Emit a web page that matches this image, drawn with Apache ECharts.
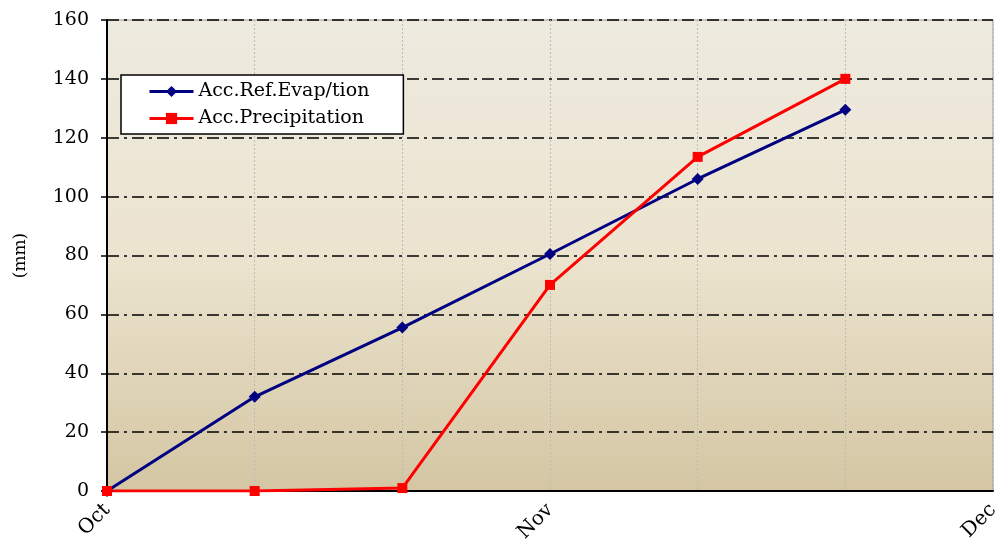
<!DOCTYPE html>
<html><head><meta charset="utf-8">
<script src="https://cdn.jsdelivr.net/npm/echarts@6/dist/echarts.min.js"></script>
<style>html,body{margin:0;padding:0;background:#fff}#c{width:1008px;height:551px}</style>
</head><body><div id="c"></div>
<script>
const categories = ['Oct', '', '', 'Nov', '', '', 'Dec'];
const evapValues = [0, 32, 55.5, 80.5, 106, 129.5];
const precipValues = [0, 0, 1, 70, 113.5, 140];
const yTicks = { min: 0, max: 160, interval: 20 };
const seriesNames = ['Acc.Ref.Evap/tion', 'Acc.Precipitation'];

const FONT = 'DejaVu Serif';
const chart = echarts.init(document.getElementById('c'));
chart.setOption({
  animation: false,
  backgroundColor: '#fff',
  textStyle: { fontFamily: FONT },
  grid: {
    left: 107, right: 15, top: 20, bottom: 60,
    show: true,
    borderColor: '#999', borderWidth: 1,
    backgroundColor: new echarts.graphic.LinearGradient(0, 0, 0, 1, [
      { offset: 0, color: '#EDEADF' },
      { offset: 0.5, color: '#ECE4CF' },
      { offset: 1, color: '#D4C6A3' }
    ])
  },
  legend: {
    left: 121, top: 75, orient: 'vertical',
    backgroundColor: '#fff', borderColor: '#000', borderWidth: 1.5, borderRadius: 0,
    padding: [7, 34, 6, 27], itemGap: 8, itemWidth: 44, itemHeight: 14,
    lineStyle: { width: 3 },
    textStyle: { fontFamily: FONT, fontSize: 19, color: '#000' },
    data: seriesNames
  },
  xAxis: {
    type: 'category', data: categories, boundaryGap: false,
    axisLine: { lineStyle: { color: '#000', width: 2 } },
    axisTick: { show: false },
    axisLabel: { interval: 0, rotate: 45, fontFamily: FONT, fontSize: 20, color: '#000', margin: 16 },
    splitLine: { show: true, interval: 0, lineStyle: { color: '#bbb', type: [2, 2], width: 1 } }
  },
  yAxis: {
    type: 'value', min: yTicks.min, max: yTicks.max, interval: yTicks.interval,
    name: '(mm)', nameLocation: 'middle', nameRotate: 90, nameGap: 78,
    nameTextStyle: { fontFamily: FONT, fontSize: 17, color: '#000' },
    axisLine: { show: true, lineStyle: { color: '#000', width: 2 } },
    axisTick: { show: true, length: 6, lineStyle: { color: '#000', width: 1.5 } },
    axisLabel: { fontFamily: FONT, fontSize: 19, color: '#000', margin: 18 },
    splitLine: { show: true, lineStyle: { color: '#000', width: 1.5, type: [12, 5, 3, 5] } }
  },
  series: [
    {
      name: seriesNames[0], type: 'line', data: evapValues,
      symbol: 'diamond', symbolSize: 12,
      lineStyle: { color: '#000080', width: 3 },
      itemStyle: { color: '#000080' }
    },
    {
      name: seriesNames[1], type: 'line', data: precipValues,
      symbol: 'rect', symbolSize: 10,
      lineStyle: { color: '#FF0000', width: 3 },
      itemStyle: { color: '#FF0000' }
    }
  ]
});
</script></body></html>
